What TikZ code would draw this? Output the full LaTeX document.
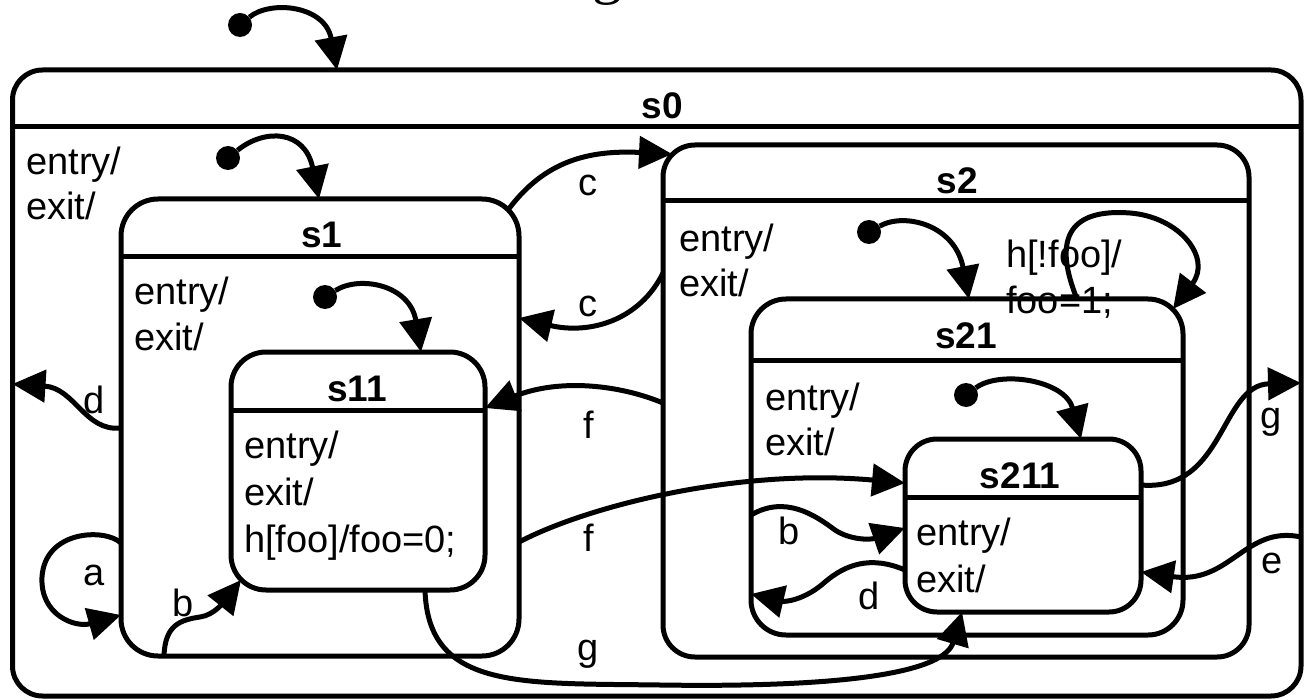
\documentclass[tikz,border=0pt]{standalone}
\usepackage{fontspec}
\setmainfont{Liberation Sans}
\newfontfamily\titlefont{Liberation Serif}
\usetikzlibrary{arrows.meta}
\begin{document}
\begin{tikzpicture}[x=1pt,y=-1pt,
  box/.style={draw, line width=5pt, inner sep=0pt, outer sep=0pt},
  sepline/.style={line width=5pt},
  sname/.style={font=\fontsize{37}{40}\selectfont\bfseries, anchor=base, inner sep=0pt},
  txt/.style={font=\fontsize{38}{40}\selectfont, anchor=base west, inner sep=0pt},
  lbl/.style={font=\fontsize{38}{40}\selectfont, inner sep=0pt},
  tr/.style={line width=5pt, -{Triangle[length=33pt,width=32pt]}},
  dot/.style={circle, fill, inner sep=0pt, minimum size=24pt},
]
\useasboundingbox (0,0) rectangle (1305,700);

% title fragment (cut off at the top edge, as in the reference)
\node[font=\titlefont\fontsize{60}{60}\selectfont, anchor=base, inner sep=0pt] (ttl) at (607,-7) {g};

% states
\node[box, rounded corners=30pt, minimum width=1288.5pt, minimum height=626pt] (s0) at (656.75,383) {};
\node[box, rounded corners=37pt, minimum width=398pt, minimum height=457pt] (s1) at (320,427.5) {};
\node[box, rounded corners=35pt, minimum width=254pt, minimum height=238pt] (s11) at (358,471) {};
\node[box, rounded corners=32pt, minimum width=586pt, minimum height=512pt] (s2) at (956,401) {};
\node[box, rounded corners=35pt, minimum width=432pt, minimum height=336pt] (s21) at (967,467) {};
\node[box, rounded corners=32pt, minimum width=236pt, minimum height=173pt] (s211) at (1023,525.5) {};

% header lines
\draw[sepline] (s0.west |- 0,127) -- (s0.east |- 0,127);
\draw[sepline] (s1.west |- 0,257) -- (s1.east |- 0,257);
\draw[sepline] (s11.west |- 0,410) -- (s11.east |- 0,410);
\draw[sepline] (s2.west |- 0,201) -- (s2.east |- 0,201);
\draw[sepline] (s21.west |- 0,360) -- (s21.east |- 0,360);
\draw[sepline] (s211.west |- 0,497) -- (s211.east |- 0,497);

% state names
\node[sname] (n0) at (662,119) {s0};
\node[sname] (n1) at (322,248) {s1};
\node[sname] (n11) at (357,401) {s11};
\node[sname] (n2) at (957,194) {s2};
\node[sname] (n21) at (966,348) {s21};
\node[sname] (n211) at (1020,488) {s211};

% internal texts
\node[txt] (t0a) at (26,175) {entry/};
\node[txt] (t0b) at (26,220) {exit/};
\node[txt] (t1a) at (134,305) {entry/};
\node[txt] (t1b) at (134,350) {exit/};
\node[txt] (t11a) at (244,458) {entry/};
\node[txt] (t11b) at (244,505) {exit/};
\node[txt] (t11c) at (244,552) {h[foo]/foo=0;};
\node[txt] (t2a) at (679,252) {entry/};
\node[txt] (t2b) at (679,297) {exit/};
\node[txt] (t21a) at (765,410) {entry/};
\node[txt] (t21b) at (765,455) {exit/};
\node[txt] (t211a) at (916,545) {entry/};
\node[txt] (t211b) at (916,592) {exit/};
\node[txt] (th1) at (1006,268) {h[!foo]/};
\node[txt] (th2) at (1006,313) {foo=1;};

% initial pseudostates
\node[dot] (i0) at (240,25) {};
\node[dot] (i1) at (228,158) {};
\node[dot] (i11) at (325,297) {};
\node[dot] (i2) at (869,232) {};
\node[dot] (i21) at (966,395) {};

\draw[tr] (i0) .. controls (270,0) and (325,5) .. (s0.north -| 337,0);
\draw[tr] (i1) .. controls (265,128) and (305,130) .. (s1.north -| 319,0);
\draw[tr] (i11) .. controls (360,275) and (410,285) .. (s11.north -| 421,0);
\draw[tr] (i2) .. controls (905,212) and (955,225) .. (s21.north -| 969,0);
\draw[tr] (i21) .. controls (1000,370) and (1065,380) .. (s211.north -| 1081,0);

% transitions
\draw[tr] ([shift={(-11,11)}]s1.north east) .. controls (545,160) and (590,150) .. ([shift={(9,9)}]s2.north west);
\draw[tr] (s2.west |- 0,273) .. controls (640,320) and (590,335) .. (s1.east |- 0,318);
\draw[tr] (s2.west |- 0,403) .. controls (620,385) and (560,378) .. (s11.east |- 0,408);
\draw[tr] (s1.east |- 0,542) .. controls (590,505) and (740,468) .. (s211.west |- 0,483);
\draw[tr] (s11.south -| 425,0) .. controls (428,690) and (520,683) .. (660,685) .. controls (860,688) and (945,670) .. (s211.south -| 962,0);
\draw[tr] (s211.east |- 0,485) .. controls (1225,492) and (1220,385) .. (s0.east |- 0,383);
\draw[tr] (s0.east |- 0,537) .. controls (1245,525) and (1230,585) .. (s211.east |- 0,572);
\draw[tr] (s21.west |- 0,515) .. controls (785,495) and (815,515) .. (835,530) .. controls (850,540) and (870,540) .. (s211.west |- 0,528);
\draw[tr] (s211.west |- 0,570) .. controls (870,555) and (845,565) .. (825,582) .. controls (805,600) and (785,602) .. (s21.west |- 0,594);
\draw[tr] (s1.west |- 0,428) .. controls (85,432) and (75,388) .. (s0.west |- 0,384);
\draw[tr] (s1.west |- 0,543) .. controls (105,528) and (45,530) .. (42,577) .. controls (40,615) and (75,628) .. (s1.west |- 0,615);
\draw[tr] (s1.south -| 164,0) .. controls (165,625) and (180,620) .. (200,617) .. controls (215,615) and (225,600) .. ([shift={(10,-10)}]s11.south west);
\draw[tr] (s21.north -| 1077,0) .. controls (1045,220) and (1090,210) .. (1130,213) .. controls (1180,217) and (1212,258) .. ([shift={(-10,10)}]s21.north east);

% transition labels
\node[lbl] (lc1) at (588,185) {c};
\node[lbl] (lc2) at (588,306) {c};
\node[lbl] (lf1) at (589,425) {f};
\node[lbl] (lf2) at (589,538) {f};
\node[lbl] (lg1) at (588,654) {g};
\node[lbl] (ld1) at (94,400) {d};
\node[lbl] (la) at (94,575) {a};
\node[lbl] (lb1) at (183,603) {b};
\node[lbl] (lb2) at (789,531) {b};
\node[lbl] (ld2) at (869,596) {d};
\node[lbl] (lg2) at (1271,422) {g};
\node[lbl] (le) at (1272,563) {e};
\end{tikzpicture}
\end{document}
